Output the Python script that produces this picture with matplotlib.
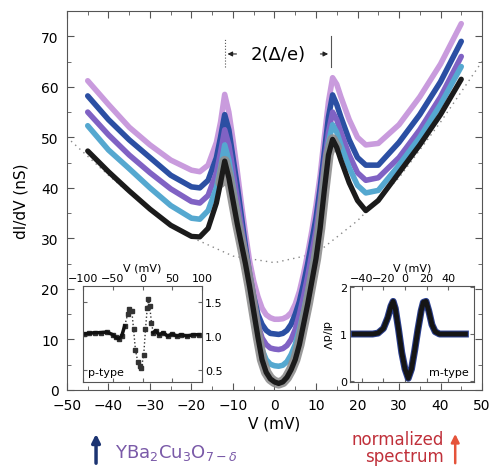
import matplotlib
matplotlib.use("Agg")
import matplotlib.pyplot as plt
import numpy as np

# main spectra (V in mV, dI/dV in nS)
V = [-45, -40, -35, -30, -25, -20, -18, -16, -14, -13, -12,
     -11, -10, -9, -8, -7, -6, -5, -4, -3, -2, -1, 0,
     1, 2, 3, 4, 5, 6, 7, 8, 9, 10, 11, 12, 13, 14, 15, 16,
     18, 20, 22, 25, 30, 35, 40, 45]

g_black = [47.3, 43.2, 39.4, 35.8, 32.6, 30.4, 30.3, 32, 37, 41, 45.3,
           42, 37.5, 33, 29, 25, 20.5, 15.5, 10.5, 6, 3.5, 2.2, 1.6,
           1.3, 1.6, 2.5, 4, 6, 9, 13, 17, 21.5, 26, 32, 39.5, 46.5, 49.6, 48, 45.5,
           41, 37.5, 35.5, 37.5, 43, 48.5, 54.5, 61.5]
g_teal = [52.3, 47.5, 43.8, 40, 36.5, 34, 33.8, 35.5, 40, 44, 48.5,
          45.5, 40.5, 35.5, 30.5, 25.5, 20.5, 15.5, 11, 8, 6, 5.1, 4.8,
          4.7, 4.9, 5.6, 7, 9, 12, 15.5, 19.5, 24, 28.5, 35, 42.5, 49, 52.5, 51, 48.5,
          44, 40.5, 39, 39.5, 44.5, 50, 56.5, 64]
g_purple = [55, 50.5, 46.5, 43, 39.8, 37.3, 37, 38.5, 43, 47, 51.5,
            48.5, 43.5, 38, 32.5, 27, 21.5, 17, 13, 10.3, 9, 8.3, 8.1,
            8, 8.2, 8.8, 10, 12, 15, 18.5, 22.5, 27, 31.5, 37.5, 44.5, 51, 55, 53.5, 51,
            46.5, 43, 41.5, 42, 46, 51.5, 58, 66]
g_blue = [58.2, 53.5, 49.5, 46, 42.5, 40.2, 40, 41.5, 46, 50, 54.5,
          51.5, 46, 40.5, 34.5, 28.5, 23, 18.5, 15, 13, 11.8, 11.2, 11.1,
          11, 11.2, 11.8, 13, 15, 17.5, 21, 25, 29.5, 34, 40, 47, 54, 58.4, 56.5, 54,
          49.5, 46, 44.5, 44.5, 49, 54.5, 61, 69]
g_violet = [61.2, 56.5, 52, 48.5, 45.5, 43.5, 43.2, 44.5, 49, 53, 58.5,
            55, 49.5, 43.5, 37, 31, 25.5, 21.5, 18.5, 16.2, 14.9, 14.3, 14,
            14, 14.1, 14.5, 15.3, 17, 19.5, 23, 27, 31.5, 36.5, 42.5, 50, 57, 61.8, 60.5, 58,
            53.5, 50, 48.5, 48.8, 52.5, 58, 64.5, 72.5]

# normal-state background (dotted)
bg_v = [-50, -40, -30, -20, -10, 0, 10, 20, 30, 40, 50]
bg_g = [50, 42.5, 35.5, 30.2, 26.5, 25.2, 27, 33.5, 42, 53, 65]

# gap edges marked at the top
gap_left, gap_right = -12, 13.6

# left inset (p-type, normalized)
p_v = [-98, -90, -80, -70, -60, -50, -45, -40, -35, -30, -25, -22, -18, -15, -12,
       -8, -5, -2, 2, 5, 8, 10, 12, 15, 18, 22, 28, 35, 42, 50, 58, 65, 75, 85, 95]
p_g = [1.03, 1.04, 1.05, 1.05, 1.06, 1.02, 0.98, 0.96, 1.0, 1.15, 1.32, 1.4, 1.37, 1.1, 0.8,
       0.62, 0.56, 0.53, 0.72, 1.1, 1.42, 1.55, 1.45, 1.2, 1.05, 1.08, 1.02, 1.05, 1.0, 1.03,
       1.0, 1.02, 1.0, 1.02, 1.02]

# right inset (m-type)
m_v = [-47, -30, -25, -20, -16, -13, -11, -9, -6, -3, 0, 3, 6, 9, 12, 15, 17, 19.5,
       22, 25, 28, 32, 56]
m_g = [1.0, 1.0, 1.02, 1.12, 1.35, 1.6, 1.7, 1.55, 1.1, 0.6, 0.25, 0.05, 0.25, 0.65,
       1.1, 1.5, 1.68, 1.7, 1.5, 1.2, 1.05, 1.0, 1.0]

fig = plt.figure(figsize=(4.9, 4.77), dpi=100)
ax = fig.add_axes([0.1367, 0.1803, 0.847, 0.7945])

ax.plot(bg_v, bg_g, ls=(0, (1, 3)), color='#888888', lw=1)

V = np.array(V)
series = [(g_violet, '#c99bdd'), (g_blue, '#2b4fa3'), (g_purple, '#8062c4'),
          (g_teal, '#55a8d0')]
for g, c in series:
    ax.plot(V, g, color=c, lw=4, solid_capstyle='round', solid_joinstyle='round')

fit = (V >= -13) & (V <= 15)
ax.plot(V[fit], np.array(g_black)[fit], color='#8e8e8e', lw=7.5, alpha=0.9,
        solid_capstyle='round')
ax.plot(V, g_black, color='#1b1b1b', lw=3.8, solid_capstyle='round', solid_joinstyle='round')

ax.set_xlim(-50, 50)
ax.set_ylim(0, 75)
ax.set_xticks(np.arange(-50, 51, 10))
ax.set_xticks(np.arange(-50, 51, 5), minor=True)
ax.set_yticks(np.arange(0, 71, 10))
ax.set_yticks(np.arange(0, 76, 5), minor=True)
ax.tick_params(which='both', direction='in', top=True, right=True, color='#555555')
ax.tick_params(which='major', length=5, labelsize=10, pad=6)
ax.tick_params(which='minor', length=3)
for s in ax.spines.values():
    s.set_color('#555555')
    s.set_linewidth(0.8)
ax.set_xlabel('V (mV)', fontsize=11, labelpad=2)
ax.set_ylabel('dI/dV (nS)', fontsize=11, labelpad=9)

# gap annotation
ax.text((gap_left + gap_right) / 2, 66.5, '2(Δ/e)', ha='center', va='center', fontsize=13)
arr = dict(arrowstyle='-|>', color='#222222', lw=0.8, mutation_scale=7)
ax.annotate('', xy=(gap_left, 66.5), xytext=(gap_left + 3.5, 66.5), arrowprops=arr)
ax.annotate('', xy=(gap_right, 66.5), xytext=(gap_right - 3.2, 66.5), arrowprops=arr)
ax.plot([gap_left, gap_left], [64, 69.5], ls=':', color='#555555', lw=0.8)
ax.plot([gap_right, gap_right], [64, 70], color='#555555', lw=0.8)

# left inset
ins1 = fig.add_axes([0.1694, 0.197, 0.2429, 0.2013])
p_v = np.array(p_v)
p_g = np.array(p_g)
ins1.plot(p_v, p_g, ls=':', color='#333333', lw=1, marker='s', ms=2.5, mfc='#333333')
for side in (p_v <= -30, p_v >= 18):
    ins1.plot(p_v[side], p_g[side], color='#111111', lw=2.5)
ins1.set_xlim(-100, 100)
ins1.set_ylim(0.32, 1.74)
ins1.set_xticks([-100, -50, 0, 50, 100])
ins1.set_yticks([0.5, 1.0, 1.5])
ins1.xaxis.tick_top()
ins1.yaxis.tick_right()
ins1.tick_params(direction='in', labelsize=8, length=3, pad=2, bottom=True, left=True,
                 color='#666666')
ins1.set_xlabel('V (mV)', fontsize=8, labelpad=2)
ins1.xaxis.set_label_position('top')
ins1.text(0.04, 0.07, 'p-type', transform=ins1.transAxes, fontsize=8)

# right inset
ins2 = fig.add_axes([0.7143, 0.197, 0.2531, 0.2013])
ins2.plot(m_v, m_g, color='#2a3f8f', lw=5)
ins2.plot(m_v, m_g, color='#151515', lw=3.5)
ins2.set_xlim(-51, 64)
ins2.set_ylim(-0.03, 2.03)
ins2.set_xticks([-40, -20, 0, 20, 40])
ins2.set_yticks([0, 1, 2])
ins2.xaxis.tick_top()
ins2.tick_params(direction='in', labelsize=8, length=3, pad=2, bottom=True, right=True,
                 color='#666666')
ins2.set_xlabel('V (mV)', fontsize=8, labelpad=2)
ins2.xaxis.set_label_position('top')
ins2.set_ylabel('dI/dV', fontsize=8, rotation=270, labelpad=14)
ins2.text(0.96, 0.07, 'm-type', transform=ins2.transAxes, fontsize=8, ha='right')

for a in (ins1, ins2):
    for s in a.spines.values():
        s.set_color('#555555')
        s.set_linewidth(0.8)

# labels under the plot
fig.text(0.235, 0.05, r'YBa$_2$Cu$_3$O$_{7-\delta}$', color='#7a5aa8', fontsize=13,
         va='center')
ax.annotate('', xy=(0.196, 0.094), xytext=(0.196, 0.021), xycoords='figure fraction',
            textcoords='figure fraction', annotation_clip=False,
            arrowprops=dict(arrowstyle='-|>', color='#1c3472', lw=2.5, mutation_scale=12))
fig.text(0.905, 0.06, 'normalized\nspectrum', color='#c0303a', fontsize=12, ha='right',
         va='center', linespacing=0.95)
ax.annotate('', xy=(0.929, 0.094), xytext=(0.929, 0.021), xycoords='figure fraction',
            textcoords='figure fraction', annotation_clip=False,
            arrowprops=dict(arrowstyle='-|>', color='#e5533a', lw=1.8, mutation_scale=12))

fig.savefig('out.png', dpi=100)
